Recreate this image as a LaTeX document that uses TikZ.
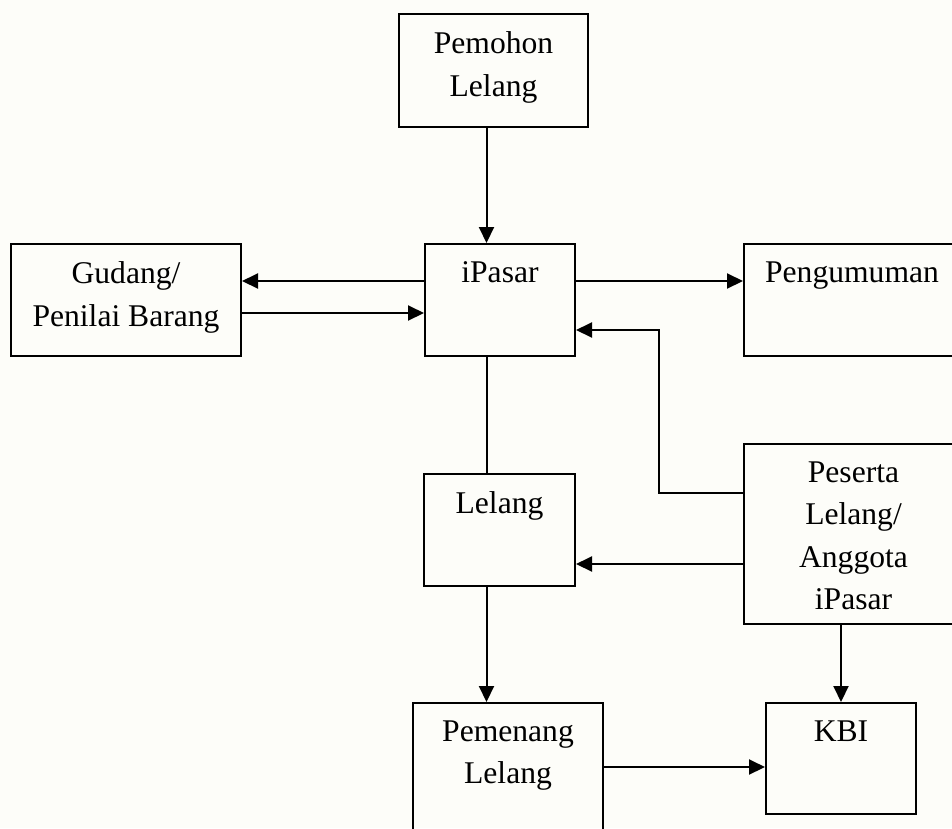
\documentclass[tikz,border=0pt]{standalone}
\usepackage{fontspec}
\setmainfont{Liberation Serif}
\usetikzlibrary{arrows.meta,positioning}
\definecolor{paper}{RGB}{253,253,249}
\tikzset{
  box/.style={draw, line width=2pt, inner sep=0pt, anchor=north west},
  boxtext/.style={label={[font=\fontsize{31.6}{42.5}\selectfont, align=center, inner sep=0pt,
      anchor=north, label distance=-18.5pt]north:{#1}}},
  arr/.style={line width=2pt, -{Triangle[length=16pt,width=15pt]}},
  con/.style={line width=2pt},
}
\begin{document}
\begin{tikzpicture}[x=1pt,y=-1pt]
  \fill[paper] (0,0) rectangle (952,828);
  \useasboundingbox (0,0) rectangle (952,828);
  \node[box, minimum width=189pt, minimum height=113pt, boxtext={Pemohon\\Lelang}] (pemohon) at (398,13) {};
  \node[box, minimum width=150pt, minimum height=112pt, boxtext={iPasar}] (ipasar) at (424,243) {};
  \node[box, minimum width=230pt, minimum height=112pt, boxtext={Gudang/\\Penilai Barang}] (gudang) at (10,243) {};
  \node[box, minimum width=216pt, minimum height=112pt, boxtext={Pengumuman}] (pengumuman) at (743,243) {};
  \node[box, minimum width=151pt, minimum height=112pt, boxtext={Lelang}] (lelang) at (423,473) {};
  \node[box, minimum width=219pt, minimum height=180pt, boxtext={Peserta\\Lelang/\\Anggota\\iPasar}] (peserta) at (743,443) {};
  \node[box, minimum width=190pt, minimum height=140pt, boxtext={Pemenang\\Lelang}] (pemenang) at (412,702) {};
  \node[box, minimum width=150pt, minimum height=111pt, boxtext={KBI}] (kbi) at (765,702) {};
  \coordinate (axis) at (486.5,0);
  \coordinate (kin) at ([yshift=-8.5pt]kbi.west);
  \draw[arr] (pemohon.south -| axis) -- (ipasar.north -| axis);
  \draw[con] (ipasar.south -| axis) -- (lelang.north -| axis);
  \draw[arr] (lelang.south -| axis) -- (pemenang.north -| axis);
  \draw[arr] ([yshift=19pt]ipasar.west) -- ([yshift=19pt]gudang.east);
  \draw[arr] ([yshift=-13pt]gudang.east) -- ([yshift=-13pt]ipasar.west);
  \draw[arr] ([yshift=19pt]ipasar.east) -- ([yshift=19pt]pengumuman.west);
  \draw[arr] ([yshift=41pt]peserta.west) -- ++(-84,0) |- ([yshift=-30pt]ipasar.east);
  \draw[arr] ([yshift=-30pt]peserta.west) -- ([yshift=-30pt]peserta.west -| lelang.east);
  \draw[arr] (peserta.south -| kbi.north) -- (kbi.north);
  \draw[arr] (pemenang.east |- kin) -- (kin);
\end{tikzpicture}
\end{document}
